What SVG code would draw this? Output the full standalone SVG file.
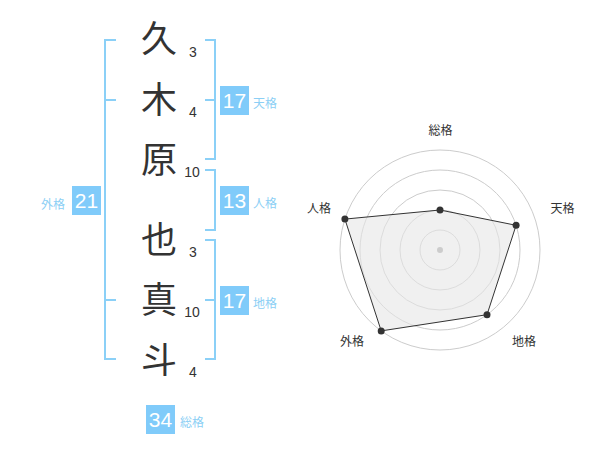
<svg xmlns="http://www.w3.org/2000/svg" width="600" height="470" viewBox="0 0 600 470">
<style>
.br{fill:none;stroke:#8bd0f7;stroke-width:2}
.box{fill:#80cbfa}
.bn{font-family:"Liberation Sans",Arial,sans-serif;font-size:21px;fill:#fff;text-anchor:middle}
.bl{font-family:"Noto Sans CJK JP",sans-serif;font-size:12px;fill:#8ccff5}
.ch{font-family:"Noto Sans CJK JP",sans-serif;font-size:36px;fill:#333;text-anchor:middle}
.st{font-family:"Liberation Sans",Arial,sans-serif;font-size:14px;fill:#333;text-anchor:middle}
.ring{fill:none;stroke:#ccc;stroke-width:1}
.rl{font-family:"Noto Sans CJK JP",sans-serif;font-size:12px;fill:#333;text-anchor:middle}
.pt{fill:#333}
</style>
<rect width="600" height="470" fill="#fff"/>
<g id="chars">
<text class="ch" x="159" y="52">久</text>
<text class="ch" x="159" y="113">木</text>
<text class="ch" x="159" y="173">原</text>
<text class="ch" x="159" y="253">也</text>
<text class="ch" x="159" y="313">真</text>
<text class="ch" x="159" y="373">斗</text>
</g>
<g id="strokes">
<text class="st" x="193" y="57">3</text>
<text class="st" x="193" y="117">4</text>
<text class="st" x="192" y="177">10</text>
<text class="st" x="193" y="257">3</text>
<text class="st" x="192" y="317">10</text>
<text class="st" x="193" y="377">4</text>
</g>
<g id="connectors">
<path class="br" d="M116,40H105V359H116M105,100H116M105,300H116"/>
<path class="br" d="M205,40H215V159H205M205,100H215"/>
<path class="br" d="M205,170H215V230H205"/>
<path class="br" d="M205,240H215V359H205M205,300H215"/>
</g>
<g id="gaikaku">
<rect class="box" x="72" y="186" width="29" height="29"/>
<text class="bn" x="86.5" y="208">21</text>
<text class="bl" x="41" y="209">外格</text>
</g>
<g id="tenkaku">
<rect class="box" x="220" y="86" width="29" height="29"/>
<text class="bn" x="234.5" y="108">17</text>
<text class="bl" x="253" y="108">天格</text>
</g>
<g id="jinkaku">
<rect class="box" x="220" y="186" width="29" height="29"/>
<text class="bn" x="234.5" y="208">13</text>
<text class="bl" x="253" y="208">人格</text>
</g>
<g id="chikaku">
<rect class="box" x="220" y="286" width="29" height="29"/>
<text class="bn" x="234.5" y="308">17</text>
<text class="bl" x="253" y="308">地格</text>
</g>
<g id="soukaku">
<rect class="box" x="146" y="405" width="29" height="29"/>
<text class="bn" x="160.5" y="427">34</text>
<text class="bl" x="180" y="427">総格</text>
</g>
<g id="radar">
<circle class="ring" cx="440" cy="250" r="20"/>
<circle class="ring" cx="440" cy="250" r="40"/>
<circle class="ring" cx="440" cy="250" r="60"/>
<circle class="ring" cx="440" cy="250" r="80"/>
<circle class="ring" cx="440" cy="250" r="100"/>
<polygon points="440,210 516.1,225.3 487,314.7 381.2,330.9 344.9,219.1" fill="#e6e6e6" fill-opacity="0.6" stroke="#333" stroke-width="1"/>
<circle cx="440" cy="250" r="3" fill="#ccc"/>
<circle class="pt" cx="440" cy="210" r="3.5"/>
<circle class="pt" cx="516.1" cy="225.3" r="3.5"/>
<circle class="pt" cx="487" cy="314.7" r="3.5"/>
<circle class="pt" cx="381.2" cy="330.9" r="3.5"/>
<circle class="pt" cx="344.9" cy="219.1" r="3.5"/>
<text class="rl" x="440.5" y="135">総格</text>
<text class="rl" x="562.5" y="213">天格</text>
<text class="rl" x="524" y="346">地格</text>
<text class="rl" x="352" y="346">外格</text>
<text class="rl" x="319" y="213">人格</text>
</g>
</svg>
